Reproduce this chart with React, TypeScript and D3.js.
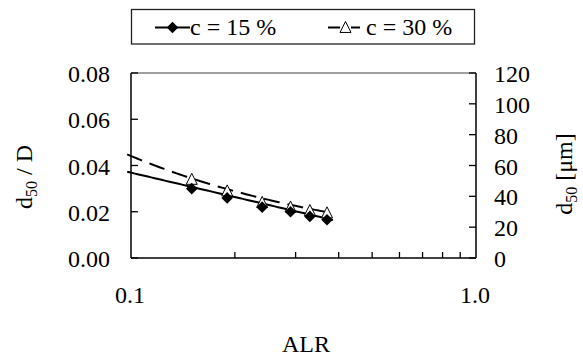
import React from "react";
import * as d3 from "d3";

// Air-to-liquid ratio and normalised median droplet size for two concentrations
const alr = [0.15, 0.19, 0.24, 0.29, 0.33, 0.37];
const d50c15 = [0.030, 0.026, 0.022, 0.020, 0.018, 0.0165];
const d50c30 = [0.034, 0.029, 0.024, 0.022, 0.0205, 0.0195];
// Trend lines: c = 15 % logarithmic (y = a + b·log10 ALR), c = 30 % power (y = a·ALR^b)
const trend15 = [0.00191, -0.035];
const trend30 = [0.0108, -0.611];
const trendSpan15 = [0.0975, 0.385];
const trendSpan30 = [0.0975, 0.365];
const leftTicks = [0, 0.02, 0.04, 0.06, 0.08];
const rightTicks = [0, 20, 40, 60, 80, 100, 120];
const xMinorTicks = [0.2, 0.3, 0.4, 0.5, 0.6, 0.7, 0.8, 0.9];
const xLabels = [0.1, 1.0];

const W = 583;
const H = 357;
const M = { left: 131, right: 476, top: 73, bottom: 258 };
const FONT = '"Liberation Serif", "Times New Roman", "DejaVu Serif", serif';

export default function App() {
  const x = d3.scaleLog().domain([0.1, 1]).range([M.left, M.right]);
  const y = d3.scaleLinear().domain([0, 0.08]).range([M.bottom, M.top]);
  const yR = d3.scaleLinear().domain([0, 120]).range([M.bottom, M.top]);

  const line = d3
    .line<[number, number]>()
    .x((d) => x(d[0]))
    .y((d) => y(d[1]));
  const trendPath = (f: (s: number) => number, span: number[]) => {
    const pts: [number, number][] = d3.range(0, 61).map((i) => {
      const s = Math.exp(Math.log(span[0]) + (i / 60) * (Math.log(span[1]) - Math.log(span[0])));
      return [s, f(s)];
    });
    return line(pts)!;
  };
  const path15 = trendPath((s) => trend15[0] + trend15[1] * Math.log10(s), trendSpan15);
  const path30 = trendPath((s) => trend30[0] * Math.pow(s, trend30[1]), trendSpan30);

  const diamond = d3.symbol(d3.symbolDiamond2, 85)()!;
  const triangle = (cx: number, cy: number, s: number) =>
    `M${cx},${cy - s * 0.55}L${cx + s / 2},${cy + s * 0.45}L${cx - s / 2},${cy + s * 0.45}Z`;

  const txt = { fontFamily: FONT, fontSize: 24 } as React.CSSProperties;

  return (
    <svg width={W} height={H} style={{ display: "block", position: "absolute", left: 0, top: 0, fontFamily: FONT }}>
      <rect width={W} height={H} fill="#fff" />

      {/* legend */}
      <rect x={131.5} y={9.5} width={343} height={34.5} fill="#fff" stroke="#222" strokeWidth={1.3} />
      <line x1={155} x2={190} y1={27.5} y2={27.5} stroke="#000" strokeWidth={2} />
      <path d={diamond} transform="translate(172.5,27.5)" fill="#000" />
      <text x={190} y={35} style={txt}>c = 15 %</text>
      <line x1={328} x2={340} y1={27.5} y2={27.5} stroke="#000" strokeWidth={2} />
      <line x1={351} x2={360} y1={27.5} y2={27.5} stroke="#000" strokeWidth={2} />
      <path d={triangle(345.5, 27.5, 11)} fill="#fff" stroke="#000" strokeWidth={1} />
      <text x={366} y={35} style={txt}>c = 30 %</text>

      {/* plot frame */}
      <line x1={M.left} x2={M.right} y1={M.top} y2={M.top} stroke="#808080" strokeWidth={1.5} />
      <line x1={M.left} x2={M.left} y1={M.top} y2={M.bottom} stroke="#000" strokeWidth={1.5} />
      <line x1={M.right} x2={M.right} y1={M.top} y2={M.bottom} stroke="#000" strokeWidth={1.5} />
      <line x1={M.left} x2={M.right} y1={M.bottom} y2={M.bottom} stroke="#000" strokeWidth={1.5} />

      {/* left axis */}
      {leftTicks.map((t) => (
        <g key={"l" + t}>
          <line x1={M.left} x2={M.left + 7} y1={y(t)} y2={y(t)} stroke="#000" strokeWidth={1.3} />
          <text x={110} y={y(t) + 9} style={txt} textAnchor="end">{t.toFixed(2)}</text>
        </g>
      ))}

      {/* right axis */}
      {rightTicks.map((t) => (
        <g key={"r" + t}>
          <line x1={M.right - 7} x2={M.right} y1={yR(t)} y2={yR(t)} stroke="#000" strokeWidth={1.3} />
          <text x={494} y={yR(t) + 9} style={txt}>{t}</text>
        </g>
      ))}

      {/* x axis */}
      {xMinorTicks.map((t) => (
        <line key={"x" + t} x1={x(t)} x2={x(t)} y1={M.bottom} y2={M.bottom - 6} stroke="#000" strokeWidth={1.3} />
      ))}
      {xLabels.map((t) => (
        <text key={"xl" + t} x={x(t) - 1} y={303} style={txt} textAnchor="middle">{t.toFixed(1)}</text>
      ))}
      <text x={306} y={352} style={txt} textAnchor="middle">ALR</text>

      {/* axis titles */}
      <text transform="translate(32,177) rotate(-90)" style={txt} textAnchor="middle">
        d<tspan fontSize={16} dy={5}>50</tspan><tspan dy={-5}> / D</tspan>
      </text>
      <text transform="translate(572,174) rotate(-90)" style={txt} textAnchor="middle">
        d<tspan fontSize={16} dy={5}>50</tspan><tspan dy={-5}> [μm]</tspan>
      </text>

      {/* trend lines */}
      <path d={path30} fill="none" stroke="#000" strokeWidth={2} strokeDasharray="16 8" />
      <path d={path15} fill="none" stroke="#000" strokeWidth={2} />

      {/* markers */}
      {alr.map((a, i) => (
        <path key={"t" + i} d={triangle(x(a), y(d50c30[i]), 11)} fill="#fff" stroke="#000" strokeWidth={1} />
      ))}
      {alr.map((a, i) => (
        <path key={"d" + i} d={diamond} transform={`translate(${x(a)},${y(d50c15[i])})`} fill="#000" />
      ))}
    </svg>
  );
}
